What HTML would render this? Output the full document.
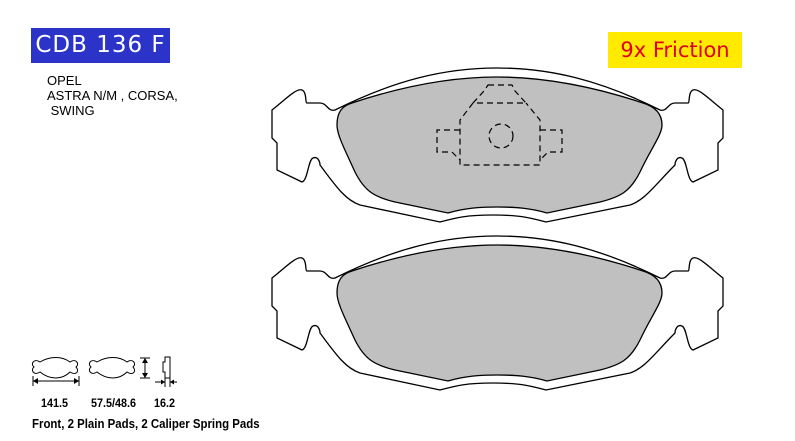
<!DOCTYPE html>
<html><head><meta charset="utf-8"><style>
body{margin:0;background:#fff;width:795px;height:441px;overflow:hidden;position:relative;font-family:"Liberation Sans",sans-serif}
.t{position:absolute;white-space:nowrap}
</style></head><body>
<div class="t" style="left:31px;top:28px;width:139px;height:35px;background:#2b33c8;color:#fff;font:23px 'DejaVu Sans',sans-serif;line-height:35px;text-align:center;letter-spacing:1px">CDB 136 F</div>
<div class="t" style="left:608px;top:32px;width:134px;height:36px;background:#ffea00;color:#e0001a;font:21px 'DejaVu Sans',sans-serif;line-height:36px;text-align:center">9x Friction</div>
<div class="t" style="left:47px;top:73px;font-size:13px;line-height:15px;color:#000">OPEL<br>ASTRA N/M , CORSA,<br>&nbsp;SWING</div>
<svg width="795" height="441" style="position:absolute;left:0;top:0">
<defs>
<g id="pad" fill="none" stroke="#000" stroke-width="1.3">
<path d="M302,90 C296,88 285,100 272,110 L272,138 L277,143 L277,170 L302,182 C308,180 308,160 313,158 C318,156 320,162 320,165 C335,185 345,200 360,205 L440,222 C455,218 465,215 493,215 C521,215 531,218 546,222 L630,205 C645,200 655,185 675,165 C675,162 677,156 682,158 C687,160 687,180 693,182 L718,170 L718,143 L723,138 L723,110 C710,100 699,88 693,90 C688,92 690,103 688,103 L675,103 C668,103 667,112 660,110 C600,80 550,68 497,68 C445,68 395,80 335,110 C328,112 327,103 320,103 L307,103 C305,103 307,92 302,90 Z"/>
<path d="M337,125 C337,112 342,106 352,103 C400,87 450,77 497,77 C545,77 595,87 643,103 C653,106 662,112 662,125 C662,135 650,150 640,172 C630,192 620,197 600,202 L547,213 C530,208 515,207 497,207 C480,207 465,208 448,213 L395,202 C375,197 365,192 355,172 C345,150 337,135 337,125 Z" fill="#c0c0c0"/>
</g>
</defs>
<use href="#pad"/>
<use href="#pad" transform="translate(0,168)"/>
<g fill="none" stroke="#000" stroke-width="1.2" stroke-dasharray="6,4">
<path d="M488,85 L512,85 L515,91 L526,103 L473,103 L484,91 Z"/>
<path d="M473,103 L460,120 L460,165 L540,165 L540,120 L526,103"/>
<path d="M460,130 L437,130 L437,152 L452,152 L460,160"/>
<path d="M540,130 L562,130 L562,152 L548,152 L540,160"/>
<circle cx="501" cy="136" r="12"/>
</g>
<g fill="none" stroke="#000" stroke-width="1">
<path d="M40,362 C50,356 62,356 70,362 C76,358 80,364 76,367 C80,371 76,376 70,372 C62,380 50,380 40,372 C34,376 30,370 34,367 C30,364 34,358 40,362Z"/>
<path d="M97,362 C107,356 119,356 127,362 C133,358 137,364 133,367 C137,371 133,376 127,372 C119,380 107,380 97,372 C91,376 87,370 91,367 C87,364 91,358 97,362Z"/>
<path d="M33,376 V386 M79,376 V386 M33,381 H79"/>
<path d="M140,358 H150 M140,378 H150 M145,358 V378"/>
<path d="M165,357 H170 V378 H165 V372 H163 V362 H165 Z"/>
<path d="M165,378 V387 M170,378 V387 M155,382 H165 M170,382 H177"/>
</g>
<g fill="#000"><path d="M33,381 l5,-3 v6z M79,381 l-5,-3 v6z M145,358 l-3,5 h6z M145,378 l-3,-5 h6z M165,382 l-4,-2.5 v5z M170,382 l4,-2.5 v5z"/></g>
</svg>
<div class="t" style="left:41px;top:396px;font-size:12px;font-weight:bold;transform:scaleX(.9);transform-origin:left">141.5</div>
<div class="t" style="left:91px;top:396px;font-size:12px;font-weight:bold;transform:scaleX(.9);transform-origin:left">57.5/48.6</div>
<div class="t" style="left:154px;top:396px;font-size:12px;font-weight:bold;transform:scaleX(.9);transform-origin:left">16.2</div>
<div class="t" style="left:32px;top:416px;font-size:13px;font-weight:bold;transform:scaleX(.88);transform-origin:left">Front, 2 Plain Pads, 2 Caliper Spring Pads</div>
</body></html>
